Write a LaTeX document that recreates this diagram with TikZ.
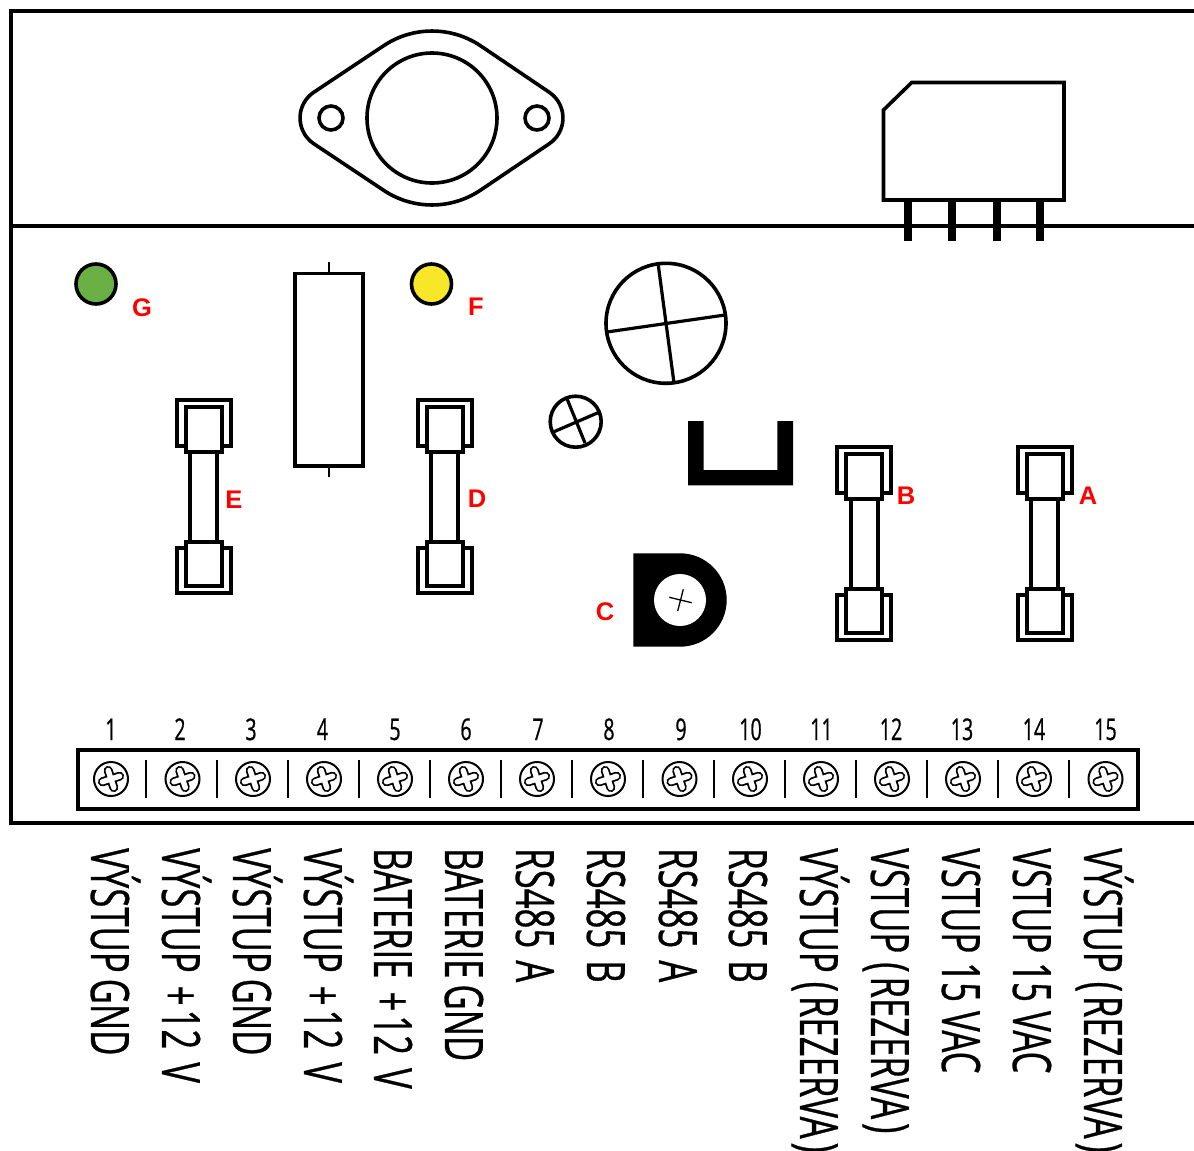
\documentclass[tikz,border=0pt]{standalone}
\usepackage{fontspec}
\setmainfont{Liberation Sans}
\newfontfamily\condfont[FakeStretch=0.655,FakeBold=0.6]{Open Sans}
\definecolor{ledgreen}{HTML}{6AB045}
\definecolor{ledyellow}{HTML}{F8E628}
\tikzset{
  x=1pt,y=-1pt,
  part/.style={draw=black,line width=3.6pt,fill=white,line join=miter},
  fuse part/.style={draw=black,line width=4pt,fill=white,line join=miter},
  thin part/.style={draw=black,line width=3.2pt},
  wire/.style={draw=black,line width=4pt},
  red label/.style={text=red,font=\bfseries\fontsize{25.5}{25.5}\selectfont,inner sep=0pt},
  number/.style={font=\condfont\fontsize{30}{30}\selectfont,inner sep=0pt,anchor=base},
  vertical label/.style={font=\condfont\fontsize{53}{53}\selectfont,inner sep=0pt,rotate=-90,anchor=base west},
  fuse/.pic={
    \draw[fuse part] (-27,1) rectangle (27,47);
    \draw[fuse part] (-27,194) rectangle (27,148.5);
    \draw[fuse part] (-13.5,52) rectangle (13.5,144);
    \draw[fuse part] (-18,8) rectangle (18,52.5);
    \draw[fuse part] (-18,143) rectangle (18,187);
  },
  screw/.pic={
    \draw[black,line width=2pt,fill=white] (0,0) circle (17);
    \begin{scope}[rotate=18]
      \draw[black,line width=9pt,line cap=round] (-9,0) -- (9,0) (0,-9) -- (0,9);
      \draw[white,line width=5.4pt,line cap=round] (-9,0) -- (9,0) (0,-9) -- (0,9);
    \end{scope}
  },
}
\begin{document}
\begin{tikzpicture}
\useasboundingbox (0,0) rectangle (1194,1151);
\fill[white] (0,0) rectangle (1194,1151);
% frame
\draw[wire] (1194,11) -- (11,11) -- (11,823) -- (1194,823);
\draw[wire] (11,225.5) -- (1194,225.5);
% transistor
\draw[part,line join=round] (313.7,92.3) -- (383.4,45.9)
  arc[start angle=236,end angle=304,radius=87] -- (549.3,92.3)
  arc[start angle=-56,end angle=56,radius=31] -- (480.6,190.1)
  arc[start angle=56,end angle=124,radius=87] -- (313.7,143.7)
  arc[start angle=124,end angle=236,radius=31] -- cycle;
\draw[part] (432,118) circle (65);
\draw[part] (331,118) circle (12);
\draw[part] (537,118) circle (12);
% relay
\foreach \px in {908,952,997,1040}{\fill[black] (\px-4,200) rectangle (\px+4,241);}
\draw[part] (883.5,110) -- (911.7,82.5) -- (1064,82.5) -- (1064,200) -- (883.5,200) -- cycle;
% LEDs
\draw[part,fill=ledgreen] (96,284) circle (20);
\draw[part,fill=ledyellow] (431.5,284) circle (20);
% resistor
\draw[black,line width=2.5pt] (329,262) -- (329,477);
\draw[part] (295,273.5) rectangle (363,466);
% fuses
\pic at (203.5,399) {fuse};
\pic at (444.5,399) {fuse};
\pic at (864,446) {fuse};
\pic at (1044.5,446) {fuse};
% trimmers
\draw[part] (666,323.3) circle (60);
\draw[thin part] (658,263) -- (674,383) (607,332) -- (725,315);
\draw[part] (575.7,421.7) circle (25.5);
\draw[thin part] (566.7,398) -- (585,443) (554,431.7) -- (598,412.7);
% U bracket
\fill[black] (688,421) -- (703.5,421) -- (703.5,470) -- (777.3,470) -- (777.3,421) -- (793,421) -- (793,485.3) -- (688,485.3) -- cycle;
% D part
\fill[black] (633.3,553.3) -- (680,553.3) arc[start angle=-90,end angle=90,radius=46.7] -- (633.3,646.7) -- cycle;
\fill[white] (680,600) circle (26);
\draw[black,line width=1.3pt] (669.3,597.3) -- (691.7,602.7) (683.3,589.3) -- (677.7,611);
% red labels
\node[red label] (lG) at (142,307.5) {G};
\node[red label] (lF) at (476,307) {F};
\node[red label] (lE) at (234,499.5) {E};
\node[red label] (lD) at (477,499) {D};
\node[red label] (lB) at (906,496) {B};
\node[red label] (lA) at (1088,496) {A};
\node[red label] (lC) at (605,611.5) {C};
% terminal block
\draw[black,line width=4pt] (78,749.5) rectangle (1138,809);
\foreach \sx in {146,217,288,359,430,501,572,643,714,785,856,927,998,1069}
  \draw[black,line width=2pt] (\sx,760) -- (\sx,798);
\foreach \sx in {111,182.5,253,324,395,466,537,608,679.5,750,821,892,963,1034,1105.5}
  \pic at (\sx,779) {screw};
\foreach \nx/\lab in {111/1,180/2,251/3,322.5/4,395/5,466/6,538/7,609/8,681/9,750.5/10,821.5/11,891/12,962/13,1034/14,1105.5/15}
  \node[number] (n\lab) at (\nx,740) {\lab};
% vertical labels
\node[vertical label] (t1) at (91,848) {VÝSTUP\kern-3pt{} GND};
\node[vertical label] (t2) at (162,848) {VÝSTUP \kern4pt+\kern4pt12 \kern4pt V};
\node[vertical label] (t3) at (233,848) {VÝSTUP\kern-3pt{} GND};
\node[vertical label] (t4) at (304,848) {VÝSTUP \kern4pt+\kern4pt12 \kern4pt V};
\node[vertical label] (t5) at (374,848) {BATERIE \kern4pt+\kern4pt12 \kern4pt V};
\node[vertical label] (t6) at (445,848) {BATERIE\kern-3pt{} GND};
\node[vertical label] (t7) at (516,848) {RS485 \kern3pt A};
\node[vertical label] (t8) at (587,848) {RS485 \kern3pt B};
\node[vertical label] (t9) at (659,848) {RS485 \kern3pt A};
\node[vertical label] (t10) at (729,848) {RS485 \kern3pt B};
\node[vertical label] (t11) at (800,848) {VÝSTUP (\kern4pt REZERVA\kern4pt)};
\node[vertical label] (t12) at (871,848) {VSTUP (\kern4pt REZERVA\kern4pt)};
\node[vertical label] (t13) at (942,848) {VSTUP 15 VAC};
\node[vertical label] (t14) at (1013,848) {VSTUP 15 VAC};
\node[vertical label] (t15) at (1084,848) {VÝSTUP (\kern4pt REZERVA\kern4pt)};
\end{tikzpicture}
\end{document}
